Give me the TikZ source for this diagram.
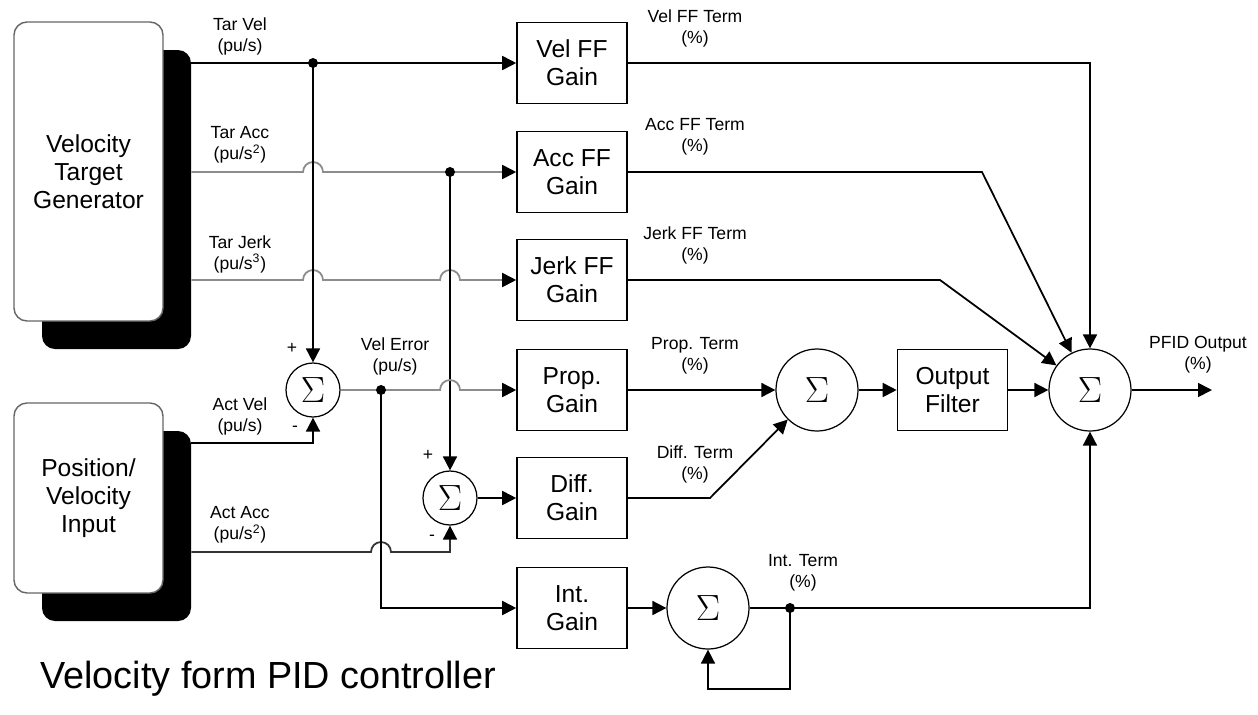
\documentclass[tikz,border=0pt]{standalone}
\usepackage{fontspec}
\setmainfont{Liberation Sans}
\usepackage{tikz}
\usetikzlibrary{arrows.meta,positioning,calc}

\begin{document}
\begin{tikzpicture}[>={Triangle[length=2.8mm,width=2.8mm,color=black]},
  sig/.style={line width=1pt},
  sigg/.style={line width=1pt,black!45},
  gain/.style={draw,line width=0.9pt,minimum width=2.2cm,minimum height=1.62cm,align=center,font=\fontsize{14}{16}\selectfont},
  src/.style={draw=black!60,line width=0.8pt,fill=white,rounded corners=0.26cm,minimum width=2.98cm,align=center,font=\fontsize{14}{16}\selectfont},
  shd/.style={fill=black,rounded corners=0.26cm,minimum width=2.98cm},
  sum/.style={circle,draw,line width=0.7pt,inner sep=0pt,font=\fontsize{21}{21}\selectfont},
  lbl/.style={align=center,font=\fontsize{10}{12}\selectfont}]
  \useasboundingbox (0,0) rectangle (25.16,-14.28);
  \node[shd,minimum height=5.98cm] (vtgs) at (2.33,-3.99) {};
  \node[src,minimum height=5.98cm] (vtg) at (1.77,-3.43) {Velocity\\Target\\Generator};
  \node[shd,minimum height=3.8cm] (pvis) at (2.33,-10.52) {};
  \node[src,minimum height=3.8cm] (pvi) at (1.77,-9.96) {Position/\\Velocity\\Input};
  \node[gain] (vff) at (11.44,-1.26) {Vel FF\\Gain};
  \node[gain] (aff) at (11.44,-3.44) {Acc FF\\Gain};
  \node[gain] (jff) at (11.44,-5.6) {Jerk FF\\Gain};
  \node[gain] (pg) at (11.44,-7.8) {Prop.\\Gain};
  \node[gain] (dg) at (11.44,-9.96) {Diff.\\Gain};
  \node[gain] (ig) at (11.44,-12.16) {Int.\\Gain};
  \node[gain] (of) at (19.05,-7.8) {Output\\Filter};
  \node[sum,minimum size=1.08cm] (s1) at (6.26,-7.8) {$\Sigma$};
  \node[sum,minimum size=1.08cm] (s2) at (9.0,-9.96) {$\Sigma$};
  \node[sum,minimum size=1.64cm] (sp) at (16.34,-7.8) {$\Sigma$};
  \node[sum,minimum size=1.64cm] (si) at (14.16,-12.16) {$\Sigma$};
  \node[sum,minimum size=1.64cm] (so) at (21.8,-7.8) {$\Sigma$};
  \coordinate (jv) at (s1 |- vff);
  \coordinate (ja) at (s2 |- aff);
  \coordinate (je) at (7.62,-7.8);
  \coordinate (ji) at (15.8,-12.16);
  \coordinate (fb) at (15.8,-13.78);
  \coordinate (ak) at (19.64,-3.44);
  \coordinate (jk) at (18.8,-5.6);
  \coordinate (dk) at (14.2,-9.96);
  \coordinate (out) at (24.24,-7.8);
  \draw[sig,->] (vtgs.east |- vff) -- (vff);
  \draw[sigg,->] (vtgs.east |- aff) -- ([xshift=-2mm]jv |- aff) arc[start angle=180,end angle=0,radius=2mm] -- (aff);
  \draw[sigg,->] (vtgs.east |- jff) -- ([xshift=-2mm]jv |- jff) arc[start angle=180,end angle=0,radius=2mm]
    -- ([xshift=-2mm]ja |- jff) arc[start angle=180,end angle=0,radius=2mm] -- (jff);
  \draw[sig,->] (jv) -- (s1);
  \draw[sig,->] (ja) -- (s2);
  \draw[sig,->] (pvis.east |- 0,-8.86) -| (s1);
  \draw[sig,black!80,->] (pvis.east |- 0,-11.04) -- ([xshift=-2mm]je |- 0,-11.04) arc[start angle=180,end angle=0,radius=2mm] -| (s2);
  \draw[sigg,->] (s1) -- ([xshift=-2mm]ja |- s1) arc[start angle=180,end angle=0,radius=2mm] -- (pg);
  \draw[sig,->] (je) |- (ig);
  \draw[sig,->] (s2) -- (dg);
  \fill (jv) circle (0.1);
  \fill (ja) circle (0.1);
  \fill (je) circle (0.1);
  \fill (ji) circle (0.1);
  \draw[sig,->] (vff) -| (so);
  \draw[sig,->] (aff) -- (ak) -- (so);
  \draw[sig,->] (jff) -- (jk) -- (so);
  \draw[sig,->] (pg) -- (sp);
  \draw[sig,->] (dg) -- (dk) -- (sp);
  \draw[sig,->] (sp) -- (of);
  \draw[sig,->] (of) -- (so);
  \draw[sig,->] (so) -- (out);
  \draw[sig,->] (ig) -- (si);
  \draw[sig] (si) -- (ji);
  \draw[sig,->] (ji) -| (so);
  \draw[sig,->] (ji) -- (fb) -| (si);
  \node[lbl] (ltv) at (4.8,-0.72) {Tar Vel\\(pu/s)};
  \node[lbl] (lta) at (4.8,-2.9) {Tar Acc\\(pu/s\textsuperscript{2})};
  \node[lbl] (ltj) at (4.8,-5.08) {Tar Jerk\\(pu/s\textsuperscript{3})};
  \node[lbl] (lav) at (4.8,-8.32) {Act Vel\\(pu/s)};
  \node[lbl] (laa) at (4.8,-10.5) {Act Acc\\(pu/s\textsuperscript{2})};
  \node[lbl] (lve) at (7.9,-7.12) {Vel Error\\(pu/s)};
  \node[lbl] (lvf) at (13.9,-0.56) {Vel FF Term\\(\%)};
  \node[lbl] (laf) at (13.9,-2.74) {Acc FF Term\\(\%)};
  \node[lbl] (ljf) at (13.9,-4.9) {Jerk FF Term\\(\%)};
  \node[lbl] (lpt) at (13.9,-7.12) {Prop. Term\\(\%)};
  \node[lbl] (ldt) at (13.9,-9.28) {Diff. Term\\(\%)};
  \node[lbl] (lit) at (16.06,-11.46) {Int. Term\\(\%)};
  \node[lbl] (lpo) at (23.96,-7.1) {PFID Output\\(\%)};
  \node[lbl] (p1) at (5.84,-6.96) {+};
  \node[lbl] (m1) at (5.9,-8.58) {-};
  \node[lbl] (p2) at (8.56,-9.1) {+};
  \node[lbl] (m2) at (8.64,-10.76) {-};
  \node[anchor=base west,inner sep=0pt,font=\fontsize{21.5}{24}\selectfont] (ttl) at (0.8,-13.76) {Velocity form PID controller};
\end{tikzpicture}
\end{document}
